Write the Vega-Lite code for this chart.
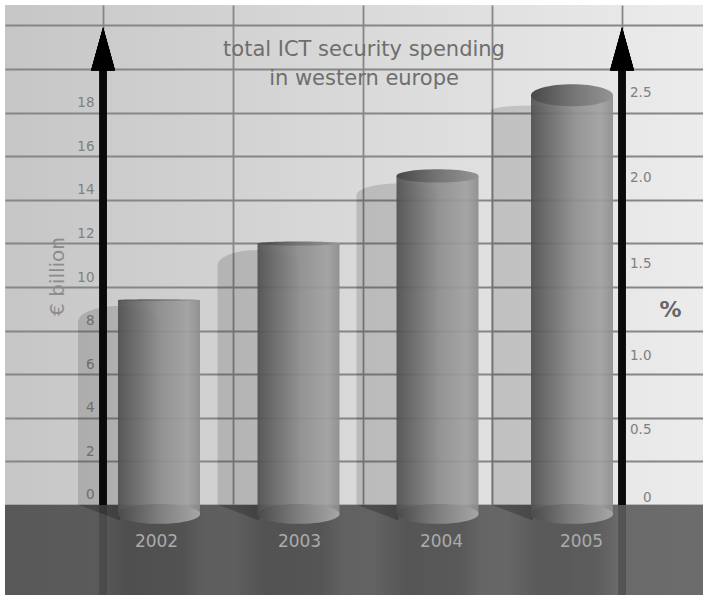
{
  "$schema": "https://vega.github.io/schema/vega-lite/v6.json",
  "autosize": {"type": "none"},
  "padding": {"left": 5, "top": 5, "right": 0, "bottom": 0},
  "width": 698,
  "height": 590,
  "background": "#ffffff",
  "view": {"stroke": null, "fill": {"gradient": "linear", "x1": 0, "y1": 0, "x2": 1, "y2": 0, "stops": [{"offset": 0, "color": "#c6c6c6"}, {"offset": 1, "color": "#ececec"}]}},
  "title": {
    "text": ["total ICT security spending", "in western europe"],
    "font": "DejaVu Sans", "fontSize": 21, "fontWeight": "normal", "color": "#6e6e6e",
    "lineHeight": 29, "anchor": "middle", "dx": 10, "offset": -84, "baseline": "top"
  },
  "config": {"axis": {"labelFont": "DejaVu Sans", "titleFont": "DejaVu Sans"}},
  "datasets": {
    "spend": [
      {"year": 2002, "spending": 9.4, "shadowTop": 8.4},
      {"year": 2003, "spending": 12.0, "shadowTop": 11.0},
      {"year": 2004, "spending": 15.1, "shadowTop": 14.2},
      {"year": 2005, "spending": 18.8, "shadowTop": 18.1}
    ]
  },
  "data": {"name": "spend"},
  "resolve": {"scale": {"x": "independent", "y": "independent"}, "axis": {"x": "independent", "y": "independent"}},
  "layer": [
    {
      "resolve": {"scale": {"shape": "independent"}},
      "encoding": {
        "x": {
          "field": "year", "type": "quantitative",
          "scale": {"domain": [2000.896, 2002, 2003, 2004, 2005, 2005.974], "range": [0, 154, 293.5, 432.5, 567, 698], "padding": 0, "nice": false, "zero": false},
          "axis": {"orient": "bottom", "values": [2001.599, 2002.53, 2003.464, 2004.405, 2005.372], "grid": true, "gridColor": "#868686", "gridWidth": 1.8, "labels": false, "ticks": false, "domain": false, "title": null}
        },
        "y": {
          "field": "spending", "type": "quantitative",
          "scale": {"domain": [-4.13, 22.94], "nice": false, "zero": false},
          "axis": {
            "orient": "left", "values": [0, 2, 4, 6, 8, 10, 12, 14, 16, 18, 20, 22], "grid": true, "gridColor": "#868686", "gridWidth": 1.8,
            "ticks": false, "domain": false, "offset": -89, "labelPadding": 0, "labelOffset": -10,
            "labelExpr": "datum.value <= 18 ? datum.label : ''", "labelColor": "#808080", "labelFontSize": 13.5,
            "title": "€ billion", "titleColor": "#8c8c8c", "titleFontSize": 20, "titleFontWeight": "normal", "titleX": -27, "titleY": 271, "titleAngle": 270
          }
        }
      },
      "layer": [
        {
          "mark": {"type": "bar", "size": 82, "xOffset": -40, "color": "#000000", "opacity": 0.14},
          "encoding": {
            "y": {"field": "shadowTop", "type": "quantitative"},
            "y2": {"datum": 0}
          }
        },
        {
          "mark": {"type": "point", "filled": true, "size": 6724, "xOffset": -40, "color": "#000000", "opacity": 0.14, "strokeWidth": 0},
          "encoding": {
            "y": {"field": "shadowTop", "type": "quantitative"},
            "shape": {
              "field": "year", "type": "nominal", "legend": null,
              "scale": {"domain": [2002, 2003, 2004, 2005], "range": ["M -1 0 A 1 0.39 0 0 1 1 0 Z", "M -1 0 A 1 0.37 0 0 1 1 0 Z", "M -1 0 A 1 0.29 0 0 1 1 0 Z", "M -1 0 A 1 0.12 0 0 1 1 0 Z"]}
            }
          }
        },
        {
          "mark": {"type": "rect", "fill": {"gradient": "linear", "x1": 0, "y1": 0, "x2": 1, "y2": 0, "stops": [{"offset": 0, "color": "#585858"}, {"offset": 1, "color": "#6c6c6c"}]}},
          "encoding": {
            "x": {"datum": 2000.896, "type": "quantitative"},
            "x2": {"datum": 2005.974},
            "y": {"datum": 0, "type": "quantitative"},
            "y2": {"datum": -4.13}
          }
        },
        {
          "mark": {"type": "bar", "size": 110, "xOffset": -10, "fill": {"gradient": "linear", "x1": 0, "y1": 0, "x2": 1, "y2": 0, "stops": [{"offset": 0, "color": "rgba(0,0,0,0)"}, {"offset": 0.3, "color": "rgba(0,0,0,0.14)"}, {"offset": 0.8, "color": "rgba(0,0,0,0.12)"}, {"offset": 1, "color": "rgba(0,0,0,0)"}]}},
          "encoding": {
            "y": {"datum": 0, "type": "quantitative"},
            "y2": {"datum": -4.13}
          }
        },
        {
          "mark": {"type": "point", "filled": true, "size": 6724, "color": "#000000", "opacity": 0.22, "strokeWidth": 0},
          "encoding": {
            "y": {"datum": 0, "type": "quantitative"},
            "shape": {"value": "M -1.95 0 L -0.95 0 L -0.95 0.38 Z"}
          }
        },
        {
          "mark": {"type": "rule", "strokeWidth": 8, "color": "#000000", "opacity": 0.035},
          "encoding": {
            "x": {"datum": 2001.599, "type": "quantitative"},
            "y": {"datum": 0, "type": "quantitative"},
            "y2": {"datum": -4.13}
          }
        },
        {
          "mark": {"type": "rule", "strokeWidth": 8, "color": "#000000", "opacity": 0.05},
          "encoding": {
            "x": {"datum": 2005.372, "type": "quantitative"},
            "y": {"datum": 0, "type": "quantitative"},
            "y2": {"datum": -4.13}
          }
        },
        {
          "mark": {"type": "rule", "strokeWidth": 7, "color": "#0a0a0a"},
          "encoding": {
            "x": {"datum": 2001.599, "type": "quantitative"},
            "y": {"datum": 0, "type": "quantitative"},
            "y2": {"datum": 19.95}
          }
        },
        {
          "mark": {"type": "rule", "strokeWidth": 7, "color": "#0a0a0a"},
          "encoding": {
            "x": {"datum": 2005.372, "type": "quantitative"},
            "y": {"datum": 0, "type": "quantitative"},
            "y2": {"datum": 19.95}
          }
        },
        {
          "mark": {"type": "point", "filled": true, "size": 576, "color": "#000000", "opacity": 1, "strokeWidth": 0},
          "encoding": {
            "x": {"datum": 2001.599, "type": "quantitative"},
            "y": {"datum": 20.93, "type": "quantitative"},
            "shape": {"value": "M 0 -1.8 L 1 1.8 L -1 1.8 Z"}
          }
        },
        {
          "mark": {"type": "point", "filled": true, "size": 576, "color": "#000000", "opacity": 1, "strokeWidth": 0},
          "encoding": {
            "x": {"datum": 2005.372, "type": "quantitative"},
            "y": {"datum": 20.93, "type": "quantitative"},
            "shape": {"value": "M 0 -1.8 L 1 1.8 L -1 1.8 Z"}
          }
        },
        {
          "mark": {
            "type": "bar", "size": 82, "opacity": 0.92,
            "fill": {"gradient": "linear", "x1": 0, "y1": 0, "x2": 1, "y2": 0, "stops": [{"offset": 0, "color": "#505050"}, {"offset": 0.2, "color": "#686868"}, {"offset": 0.5, "color": "#8c8c8c"}, {"offset": 0.85, "color": "#a0a0a0"}, {"offset": 1, "color": "#8c8c8c"}]}
          },
          "encoding": {"y2": {"datum": -0.41}}
        },
        {
          "mark": {
            "type": "point", "filled": true, "size": 6724, "opacity": 1, "strokeWidth": 0,
            "fill": {"gradient": "linear", "x1": 0, "y1": 0, "x2": 1, "y2": 0, "stops": [{"offset": 0, "color": "#484848"}, {"offset": 0.5, "color": "#747474"}, {"offset": 1, "color": "#949494"}]}
          },
          "encoding": {
            "shape": {
              "field": "year", "type": "nominal", "legend": null,
              "scale": {"domain": [2002, 2003, 2004, 2005], "range": [
                "M -1 0 A 1 0.02 0 0 1 1 0 A 1 0.02 0 0 1 -1 0 Z",
                "M -1 0 A 1 0.05 0 0 1 1 0 A 1 0.05 0 0 1 -1 0 Z",
                "M -1 0 A 1 0.16 0 0 1 1 0 A 1 0.16 0 0 1 -1 0 Z",
                "M -1 0 A 1 0.27 0 0 1 1 0 A 1 0.27 0 0 1 -1 0 Z"
              ]}
            }
          }
        },
        {
          "mark": {
            "type": "point", "filled": true, "size": 6724, "opacity": 1, "strokeWidth": 0,
            "fill": {"gradient": "linear", "x1": 0, "y1": 0, "x2": 1, "y2": 0, "stops": [{"offset": 0, "color": "#4a4a4a"}, {"offset": 0.5, "color": "#7e7e7e"}, {"offset": 1, "color": "#a6a6a6"}]}
          },
          "encoding": {
            "y": {"datum": -0.41, "type": "quantitative"},
            "shape": {"value": "M -1 0 A 1 0.24 0 0 1 1 0 A 1 0.24 0 0 1 -1 0 Z"}
          }
        }
      ]
    },
    {
      "mark": {"type": "point", "opacity": 0},
      "encoding": {
        "x": {
          "field": "year", "type": "quantitative",
          "scale": {"domain": [2000.9, 2002, 2003, 2004, 2005, 2006], "range": [0, 151, 294, 436, 576, 698], "nice": false, "zero": false},
          "axis": {"orient": "bottom", "values": [2002, 2003, 2004, 2005], "format": "d", "grid": false, "ticks": false, "domain": false, "offset": -54, "labelPadding": 0, "labelBaseline": "middle", "labelColor": "#ababab", "labelFontSize": 17, "title": null, "zindex": 1}
        },
        "y": {
          "datum": 1, "type": "quantitative",
          "scale": {"domain": [0, 0.5, 1, 1.5, 2, 2.5], "range": [492, 424, 350, 258, 172, 87]},
          "axis": {
            "orient": "right", "values": [0, 0.5, 1, 1.5, 2, 2.5], "labelExpr": "datum.value === 0 ? '0' : format(datum.value, '.1f')",
            "grid": false, "ticks": false, "domain": false, "offset": -52, "labelPadding": 0, "labelAlign": "right", "labelColor": "#808080", "labelFontSize": 13.5,
            "title": "%", "titleColor": "#666666", "titleFontSize": 22, "titleFontWeight": "bold", "titleAngle": 0, "titleX": 19, "titleY": 304, "titleAlign": "center", "titleBaseline": "middle", "zindex": 1
          }
        }
      }
    }
  ]
}
